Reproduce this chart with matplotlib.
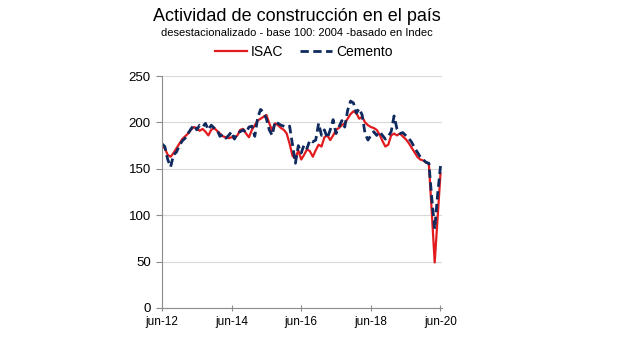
import matplotlib.pyplot as plt

plt.rcParams['font.family'] = ['Liberation Sans', 'DejaVu Sans']

# Serie mensual desde jun-12 hasta jun-20 (base 100: 2004)
isac = [175, 172, 165, 163, 167, 172, 177, 182, 185, 188, 192, 195,
        194, 191, 193, 190, 186, 192, 194, 191, 188, 185, 184, 183,
        184, 183, 186, 192, 193, 188, 184, 192, 197, 202, 204, 206,
        208, 199, 191, 199, 197, 194, 192, 188, 177, 164, 161, 170,
        160, 165, 171, 169, 163, 170, 176, 174, 184, 186, 181, 186,
        192, 194, 197, 199, 204, 209, 212, 210, 204, 206, 200, 197,
        195, 194, 192, 187, 180, 174, 176, 186, 188, 186, 188, 185,
        182, 178, 173, 168, 163, 160, 159, 157, 155, 103, 49, 97,
        145]
cemento = [177, 174, 160, 152, 165, 168, 175, 180, 183, 188, 193, 197,
           192, 197, 195, 199, 192, 197, 194, 192, 185, 187, 183, 186,
           190, 182, 189, 190, 192, 189, 195, 196, 185, 205, 214, 211,
           204, 192, 186, 201, 199, 197, 196, 195, 196, 176, 156, 175,
           167, 176, 172, 181, 179, 181, 199, 186, 192, 183, 192, 203,
           188, 195, 202, 195, 213, 223, 221, 210, 215, 208, 188, 181,
           186, 190, 186, 190, 186, 182, 185, 190, 207, 193, 188, 189,
           186, 183, 179, 173, 168, 163, 160, 157, 156, 118, 85, 122,
           153]
meses = list(range(len(isac)))
etiquetas = ['jun-12', 'jun-14', 'jun-16', 'jun-18', 'jun-20']
pos_etiquetas = [0, 24, 48, 72, 96]

fig = plt.figure(figsize=(6.4, 3.38), dpi=100)
ax = fig.add_axes([0.253, 0.089, 0.438, 0.686])

ax.plot(meses, isac, color='#e31b1f', lw=1.6, label='ISAC')
ax.plot(meses, cemento, color='#0e2a5e', lw=2.0, ls=(0, (3, 1.6)), label='Cemento')

ax.set_xlim(0, 96.6)
ax.set_ylim(0, 250)
ax.set_yticks(range(0, 251, 50))
ax.set_xticks(pos_etiquetas)
ax.set_xticklabels(etiquetas)
ax.grid(axis='y', color='#d9d9d9', lw=0.8)
ax.set_axisbelow(True)

for lado in ['top', 'right']:
    ax.spines[lado].set_visible(False)
for lado in ['left', 'bottom']:
    ax.spines[lado].set_color('#8c8c8c')
    ax.spines[lado].set_linewidth(0.8)
ax.tick_params(axis='y', direction='out', length=4, color='#8c8c8c', labelsize=9.5, pad=4)
ax.tick_params(axis='x', direction='inout', length=5, color='#8c8c8c', labelsize=8.5, pad=3)

fig.text(0.464, 0.95, 'Actividad de construcción en el país', ha='center', va='center', fontsize=13)
fig.text(0.464, 0.902, 'desestacionalizado - base 100: 2004 -basado en Indec', ha='center', va='center',
         fontsize=8)
fig.legend(loc='center', bbox_to_anchor=(0.475, 0.846), ncol=2, frameon=False, fontsize=10,
           handlelength=2.3, handletextpad=0.3, columnspacing=1.2, borderpad=0)

fig.savefig('out.png', dpi=100)
